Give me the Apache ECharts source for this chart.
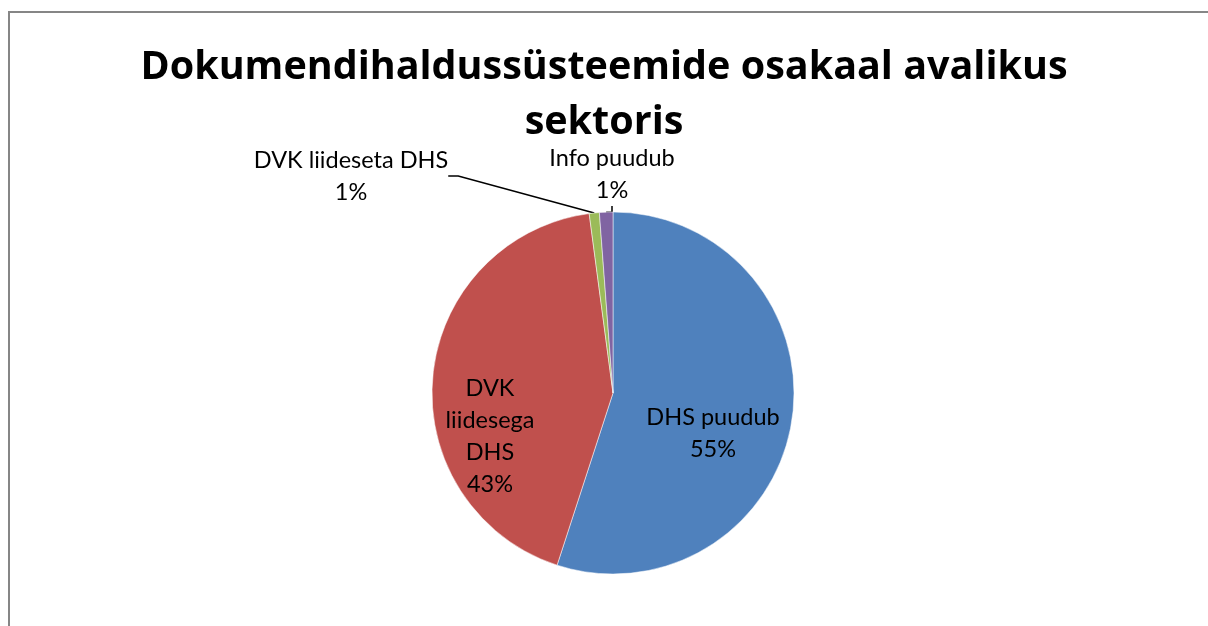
<!DOCTYPE html>
<html>
<head>
<meta charset="utf-8">
<script src="https://cdn.jsdelivr.net/npm/echarts@6/dist/echarts.min.js"></script>
<style>
  html, body { margin: 0; padding: 0; background: #fff; }
  #chart { width: 1208px; height: 626px; }
</style>
</head>
<body>
<div id="chart"></div>
<script>
const categories = ['DHS puudub', 'DVK liidesega DHS', 'DVK liideseta DHS', 'Info puudub'];
const values = [55, 42.9, 0.9, 1.2];
const colors = ['#4F81BD', '#C0504D', '#9BBB59', '#8064A2'];

let myChart = echarts.init(document.getElementById('chart'));

// label placement (Excel style): two inside, two outside with leader lines
const labelSpots = [
    { x: 713, y: 433 },
    { x: 490, y: 436 },
    { x: 351, y: 176 },
    { x: 612, y: 174 }
];

let option = {
    animation: false,
    color: colors,
    textStyle: { fontFamily: 'Lato' },
    graphic: [
        {
            type: 'rect',
            shape: { x: 9, y: 12, width: 1400, height: 800 },
            style: { fill: 'none', stroke: '#868686', lineWidth: 2 },
            silent: true
        }
    ],
    title: {
        text: 'Dokumendihaldussüsteemide osakaal avalikus\nsektoris',
        left: 'center',
        top: 35,
        textStyle: {
            fontFamily: 'Open Sans',
            fontSize: 39.5,
            fontWeight: 'bold',
            color: '#000',
            lineHeight: 55
        }
    },
    series: [
        {
            type: 'pie',
            center: [613, 393],
            radius: 181,
            startAngle: 90,
            clockwise: true,
            percentPrecision: 0,
            itemStyle: { borderColor: '#fff', borderWidth: 0.5 },
            label: {
                fontFamily: 'Lato',
                fontSize: 23.5,
                color: '#000',
                lineHeight: 32,
                align: 'center',
                formatter: '{b}\n{d}%'
            },
            labelLine: {
                show: true,
                lineStyle: { color: '#000', width: 1.5 },
                length: 10,
                length2: 10
            },
            labelLayout: function (params) {
                let p = labelSpots[params.dataIndex];
                return { x: p.x, y: p.y, align: 'center', verticalAlign: 'middle' };
            },
            data: categories.map(function (name, i) {
                let item = { name: name, value: values[i] };
                if (i === 0) {
                    item.label = { position: 'inside' };
                    item.labelLine = { show: false };
                } else if (i === 1) {
                    item.label = { position: 'inside', formatter: 'DVK\nliidesega\nDHS\n{d}%' };
                    item.labelLine = { show: false };
                } else {
                    item.label = { position: 'outside' };
                }
                return item;
            })
        }
    ]
};
myChart.setOption(option);
</script>
</body>
</html>
